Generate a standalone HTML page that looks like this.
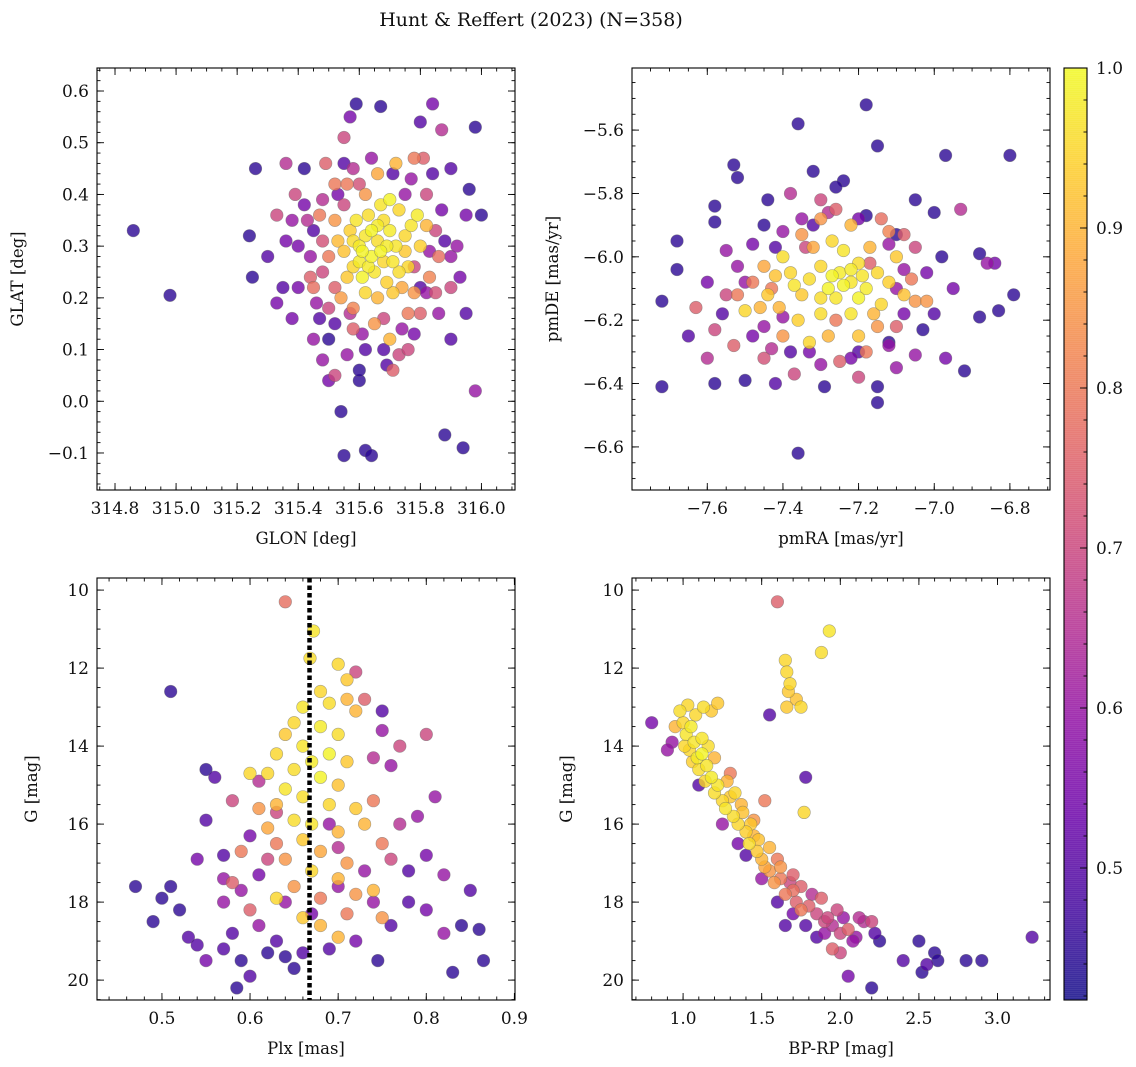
<!DOCTYPE html>
<html><head><meta charset="utf-8">
<style>
html,body{margin:0;padding:0;background:#fff;}
svg{display:block;font-family:"DejaVu Serif","Liberation Serif",serif;}
</style></head>
<body>
<svg id="fig" width="1136" height="1067" viewBox="0 0 1136 1067" xmlns="http://www.w3.org/2000/svg">
<text x="531" y="26" text-anchor="middle" font-size="19" fill="#111">Hunt &amp; Reffert (2023) (N=358)</text>
</svg>
<script>
// Panel 1: GLON / GLAT
const glon=[314.86,314.98,315.24,315.25,315.26,315.33,315.36,315.38,315.40,315.42,315.45,315.44,315.47,315.48,315.50,315.49,315.54,315.55,315.55,315.57,315.59,315.60,315.62,315.64,315.67,315.62,315.69,315.71,315.73,315.78,315.80,315.84,315.87,315.88,315.94,315.98,315.98,316.0,315.96,315.93,315.95,315.90,315.86,315.88,315.84,315.81,315.35,315.38,315.45,315.50,315.52,315.56,315.58,315.75,315.78,315.82,315.85,315.90,315.48,315.52,315.55,315.48,315.42,
315.40,315.43,315.46,315.52,315.57,315.61,315.68,315.74,315.80,315.83,315.87,315.82,315.77,315.71,315.64,315.58,315.53,315.47,315.44,315.36,315.30,315.39,315.92,315.95,315.68,315.60,315.76,315.52,315.33,315.90,
315.60,315.62,315.64,315.66,315.68,315.70,315.72,315.58,315.61,315.65,315.69,315.73,315.75,315.77,315.79,315.63,315.67,315.70,315.57,315.55,315.59,315.62,315.66,315.71,315.74,315.76,315.64,315.68,315.60,315.56,315.53,315.80,315.82,315.78,315.70,315.65,315.58,315.54,315.52,315.50,315.83,315.86,315.76,315.80,315.62,315.66,315.72,315.78,315.56,315.60,315.73,315.61,315.67,315.63,315.69,315.71,315.58,315.75,315.66,315.45,315.50,315.85,315.90,315.55,315.48];
const glat=[0.33,0.205,0.32,0.24,0.45,0.36,0.46,0.35,0.22,0.45,0.33,0.28,0.16,0.08,0.04,0.46,-0.02,-0.105,0.51,0.55,0.575,0.04,-0.095,-0.105,0.57,0.1,0.07,0.06,0.09,0.13,0.54,0.575,0.525,-0.065,-0.09,0.02,0.53,0.36,0.41,0.24,0.17,0.12,0.17,0.31,0.44,0.47,0.22,0.16,0.12,0.12,0.15,0.09,0.14,0.4,0.26,0.21,0.33,0.28,0.39,0.42,0.46,0.25,0.38,
0.30,0.35,0.19,0.22,0.17,0.13,0.16,0.14,0.22,0.29,0.37,0.40,0.43,0.44,0.47,0.45,0.40,0.36,0.24,0.31,0.28,0.40,0.30,0.36,0.10,0.06,0.10,0.05,0.19,0.45,
0.30,0.32,0.28,0.31,0.27,0.33,0.30,0.26,0.24,0.25,0.23,0.25,0.29,0.34,0.36,0.36,0.38,0.39,0.33,0.29,0.35,0.21,0.20,0.21,0.22,0.26,0.33,0.35,0.27,0.24,0.31,0.30,0.34,0.21,0.12,0.15,0.18,0.20,0.35,0.28,0.24,0.28,0.17,0.17,0.40,0.44,0.46,0.47,0.42,0.42,0.37,0.29,0.29,0.26,0.30,0.27,0.31,0.32,0.34,0.22,0.18,0.21,0.22,0.38,0.31];
const prob1=[0.45,0.45,0.45,0.45,0.45,0.7,0.65,0.6,0.55,0.45,0.5,0.6,0.5,0.6,0.55,0.75,0.45,0.45,0.7,0.55,0.45,0.45,0.45,0.45,0.45,0.5,0.5,0.75,0.7,0.55,0.5,0.55,0.65,0.45,0.45,0.6,0.45,0.45,0.45,0.55,0.5,0.5,0.6,0.5,0.5,0.75,0.5,0.55,0.6,0.45,0.5,0.6,0.75,0.6,0.7,0.6,0.7,0.6,0.65,0.8,0.5,0.7,0.55,
0.55,0.65,0.6,0.75,0.65,0.6,0.7,0.6,0.5,0.6,0.55,0.7,0.6,0.5,0.6,0.65,0.55,0.8,0.75,0.55,0.5,0.7,0.6,0.55,0.5,0.45,0.7,0.7,0.55,0.5,
0.98,0.97,0.99,0.96,0.95,0.98,0.97,0.95,0.99,0.97,0.94,0.96,0.93,0.97,0.98,0.96,0.97,0.99,0.94,0.92,0.97,0.95,0.90,0.93,0.88,0.95,0.99,0.96,0.98,0.93,0.91,0.94,0.9,0.85,0.9,0.85,0.82,0.86,0.85,0.8,0.82,0.78,0.8,0.75,0.85,0.88,0.9,0.8,0.8,0.72,0.95,0.99,0.99,0.98,0.98,0.97,0.96,0.95,0.98,0.78,0.7,0.72,0.7,0.7,0.72];
// Panel 2: pmRA / pmDE
const pmra=[-7.36,-7.18,-7.15,-7.53,-7.52,-7.32,-6.97,-6.80,-7.44,-7.24,-7.26,-7.05,-6.93,-7.58,-7.58,-7.68,-7.68,-7.72,-7.72,-7.60,-7.58,-7.50,-7.63,-7.58,-7.36,-7.37,-7.29,-7.15,-7.15,-7.05,-6.92,-6.97,-6.98,-6.88,-6.86,-6.84,-6.88,-6.83,-6.79,-7.03,-7.08,-7.05,-7.00,-7.10,-7.12,-7.18,-7.45,-7.55,-7.50,-7.48,-7.43,-7.40,-7.33,-7.20,-7.10,-7.05,-7.02,-7.08,-7.42,-7.35,
-7.48,-7.52,-7.40,-7.32,-7.28,-7.20,-7.12,-7.08,-7.12,-7.22,-7.30,-7.38,-7.45,-7.56,-7.02,-7.00,-7.60,-7.42,-7.10,-6.95,-7.65,-7.34,-7.17,-7.26,-7.43,
-7.25,-7.22,-7.28,-7.20,-7.30,-7.18,-7.26,-7.33,-7.15,-7.12,-7.35,-7.38,-7.40,-7.42,-7.10,-7.14,-7.22,-7.30,-7.36,-7.28,-7.20,-7.24,-7.17,-7.27,-7.32,-7.44,-7.46,-7.50,-7.08,-7.06,-7.35,-7.22,-7.30,-7.40,-7.33,-7.15,-7.18,-7.25,-7.45,-7.48,-7.20,-7.24,-7.27,-7.22,-7.30,-7.19,-7.16,-7.37,-7.41,-7.12,-7.14,-7.52,-7.53,-7.55,-7.30,-7.26,-7.20,-7.10,-7.38,-7.45];
const pmde=[-5.58,-5.52,-5.65,-5.71,-5.75,-5.73,-5.68,-5.68,-5.82,-5.76,-5.78,-5.82,-5.85,-5.89,-5.84,-5.95,-6.04,-6.14,-6.41,-6.32,-6.40,-6.39,-6.16,-6.23,-6.62,-6.37,-6.41,-6.46,-6.41,-6.31,-6.36,-6.32,-6.00,-5.99,-6.02,-6.02,-6.19,-6.17,-6.12,-6.23,-5.93,-5.97,-5.86,-5.93,-6.27,-5.87,-5.90,-5.98,-6.08,-6.25,-6.29,-6.19,-6.30,-6.30,-6.10,-6.14,-6.14,-6.04,-5.97,-5.88,
-5.96,-6.03,-5.92,-5.90,-5.86,-5.88,-5.96,-6.18,-6.28,-6.32,-6.34,-6.30,-6.22,-6.18,-6.05,-6.18,-6.08,-6.40,-6.35,-6.10,-6.25,-5.97,-6.02,-6.20,-6.10,
-6.05,-6.08,-6.10,-6.02,-6.03,-6.10,-6.13,-6.07,-6.05,-6.08,-6.12,-6.05,-6.00,-6.06,-6.00,-6.15,-6.18,-6.18,-6.20,-6.25,-6.25,-5.98,-5.97,-5.95,-5.97,-6.12,-6.16,-6.17,-6.12,-6.07,-5.93,-5.90,-5.88,-6.25,-6.27,-6.22,-6.30,-6.33,-6.03,-6.08,-6.13,-6.09,-6.06,-6.04,-6.13,-6.06,-6.18,-6.09,-6.16,-5.92,-5.88,-6.12,-6.28,-6.12,-5.82,-5.85,-6.38,-6.22,-5.80,-6.32];
const prob2=[0.45,0.45,0.45,0.45,0.45,0.45,0.45,0.45,0.45,0.45,0.45,0.45,0.65,0.45,0.45,0.45,0.45,0.45,0.45,0.65,0.45,0.45,0.75,0.7,0.45,0.7,0.45,0.45,0.45,0.6,0.45,0.55,0.45,0.45,0.6,0.55,0.45,0.45,0.45,0.45,0.75,0.7,0.45,0.45,0.45,0.45,0.45,0.6,0.6,0.55,0.65,0.6,0.55,0.5,0.6,0.85,0.85,0.6,0.5,0.6,
0.55,0.6,0.6,0.5,0.65,0.55,0.6,0.55,0.6,0.55,0.6,0.5,0.6,0.5,0.55,0.5,0.55,0.5,0.6,0.55,0.5,0.7,0.75,0.8,0.8,
0.98,0.97,0.99,0.96,0.95,0.98,0.97,0.96,0.95,0.94,0.93,0.95,0.96,0.92,0.93,0.95,0.97,0.96,0.94,0.9,0.92,0.97,0.9,0.95,0.88,0.93,0.9,0.95,0.92,0.8,0.85,0.9,0.85,0.85,0.95,0.85,0.8,0.75,0.88,0.8,0.99,0.99,0.99,0.98,0.96,0.97,0.9,0.97,0.9,0.82,0.78,0.8,0.75,0.7,0.7,0.75,0.7,0.75,0.65,0.72];
// Panel 3: Plx / G
const plx=[0.672,0.668,0.70,0.71,0.68,0.69,0.66,0.71,0.72,0.65,0.68,0.70,0.64,0.66,0.69,0.63,0.67,0.71,0.62,0.65,0.68,0.70,0.64,0.66,0.69,0.72,0.63,0.65,0.67,0.70,0.62,0.66,0.68,0.64,0.67,0.70,0.65,0.72,0.68,0.63,0.66,0.71,0.68,0.70,0.60,0.61,0.74,0.73,0.75,0.59,0.58,0.60,0.63,0.71,0.74,0.75,0.64,0.72,0.73,0.75,0.77,
0.51,0.55,0.56,0.55,0.57,0.54,0.47,0.49,0.50,0.51,0.52,0.53,0.54,0.55,0.57,0.58,0.59,0.585,0.60,0.62,0.63,0.64,0.65,0.66,0.69,0.72,0.745,0.76,0.78,0.80,0.82,0.83,0.84,0.86,0.865,0.85,0.82,0.80,0.79,0.81,0.80,0.76,0.75,0.74,0.77,0.78,0.73,0.70,0.61,0.59,0.57,0.61,0.60,0.58,0.57,0.62,0.63,0.61,0.76,0.74,0.70,0.64,0.67,0.69];
const gmag3=[11.05,11.75,11.9,12.3,12.6,12.9,13.0,12.8,13.1,13.4,13.5,13.7,13.7,14.0,14.2,14.2,14.4,14.4,14.7,14.6,14.8,15.0,15.1,15.3,15.5,15.6,15.5,15.9,16.0,16.2,16.1,16.4,16.7,16.9,17.2,17.4,17.6,17.8,17.9,17.9,18.4,18.3,18.6,18.9,14.7,15.6,15.4,16.0,16.5,16.7,17.5,18.2,16.5,17.0,17.7,18.4,10.3,12.1,12.8,13.6,14.0,
12.6,14.6,14.8,15.9,16.8,16.9,17.6,18.5,17.9,17.6,18.2,18.9,19.1,19.5,19.2,18.8,19.5,20.2,19.9,19.3,19.0,19.4,19.7,19.3,19.2,19.0,19.5,18.6,18.0,18.2,18.8,19.8,18.6,18.7,19.5,17.7,17.3,16.8,15.8,15.3,13.7,14.5,13.1,14.3,16.0,17.2,17.2,17.6,17.3,17.7,18.0,18.6,16.3,15.4,17.4,16.9,15.7,14.9,16.9,18.0,16.6,18.0,18.3,16.0];
const prob3=[0.97,0.96,0.95,0.93,0.95,0.96,0.97,0.9,0.9,0.95,0.98,0.96,0.93,0.97,0.99,0.95,0.98,0.93,0.95,0.96,0.99,0.92,0.97,0.96,0.95,0.93,0.9,0.96,0.97,0.9,0.88,0.93,0.88,0.85,0.95,0.9,0.85,0.85,0.8,0.95,0.93,0.8,0.9,0.9,0.95,0.85,0.8,0.9,0.8,0.8,0.75,0.75,0.8,0.85,0.9,0.85,0.78,0.7,0.75,0.6,0.7,
0.45,0.45,0.5,0.5,0.5,0.55,0.45,0.45,0.45,0.45,0.45,0.5,0.5,0.55,0.5,0.5,0.45,0.45,0.5,0.45,0.5,0.45,0.45,0.5,0.5,0.55,0.45,0.5,0.5,0.55,0.6,0.45,0.45,0.45,0.45,0.5,0.6,0.55,0.6,0.6,0.7,0.6,0.5,0.65,0.65,0.5,0.6,0.6,0.55,0.6,0.6,0.6,0.55,0.7,0.6,0.7,0.7,0.65,0.7,0.6,0.65,0.6,0.55,0.6];
// Panel 4: BP-RP / G
const bprp=[1.65,1.66,1.67,1.68,1.66,1.72,1.75,1.93,1.88,1.60,1.55,1.78,1.77,
0.98,1.00,1.02,1.05,1.07,1.04,1.09,1.12,1.10,1.15,1.14,1.18,1.20,1.22,1.25,1.27,1.30,1.32,1.35,1.38,1.40,1.42,1.45,1.47,1.50,1.52,1.55,1.58,1.62,1.65,1.70,1.72,1.75,1.80,1.85,1.90,1.95,2.00,2.05,2.10,2.15,2.20,2.22,2.25,1.08,1.13,1.18,1.22,1.03,0.95,0.93,0.80,0.90,1.10,1.25,1.35,1.40,1.50,1.60,1.65,1.70,1.78,1.85,1.90,1.95,2.00,2.05,2.08,2.20,2.40,2.50,2.52,2.55,2.60,2.62,2.80,2.90,3.22,1.52,1.30,1.45,1.60,1.70,1.88,1.98,2.12,1.20,1.28,1.33,1.37,1.43,1.48,1.55,1.62,1.68,1.75,1.82,1.92,2.02,1.12,1.16,1.06,1.01];
const gmag4=[11.8,12.1,12.6,12.4,13.0,12.8,13.0,11.05,11.6,10.3,13.2,14.8,15.7,
13.1,13.4,13.7,13.5,13.9,14.1,14.3,14.2,14.6,14.5,14.9,14.8,15.2,15.0,15.4,15.6,15.3,15.8,16.0,15.7,16.2,16.5,16.3,16.7,16.9,17.1,17.2,17.5,17.4,17.8,17.7,18.0,18.2,18.1,18.3,18.5,18.6,18.8,18.7,18.9,18.5,18.5,18.8,19.0,13.2,13.0,13.1,12.9,12.95,13.5,13.9,13.4,14.1,15.0,16.0,16.5,16.8,17.4,18.0,18.6,18.3,18.6,18.9,18.8,19.2,19.3,19.9,19.0,20.2,19.5,19.0,19.8,19.6,19.3,19.5,19.5,19.5,18.9,15.4,14.7,15.9,16.9,17.3,17.9,18.2,18.4,14.3,14.9,15.2,15.5,16.0,16.4,16.6,17.1,17.5,17.6,17.8,18.4,18.4,13.8,14.0,14.4,14.0];
const prob4=[0.95,0.95,0.93,0.95,0.93,0.92,0.95,0.97,0.96,0.75,0.5,0.5,0.95,
0.96,0.95,0.97,0.98,0.97,0.95,0.98,0.99,0.96,0.97,0.95,0.98,0.96,0.97,0.95,0.97,0.93,0.96,0.95,0.92,0.94,0.96,0.9,0.93,0.9,0.88,0.85,0.85,0.8,0.8,0.78,0.75,0.8,0.75,0.7,0.7,0.65,0.7,0.75,0.6,0.65,0.7,0.5,0.45,0.95,0.96,0.93,0.93,0.95,0.9,0.6,0.55,0.6,0.5,0.6,0.55,0.5,0.6,0.5,0.5,0.55,0.5,0.5,0.6,0.75,0.7,0.55,0.6,0.45,0.5,0.45,0.45,0.5,0.45,0.45,0.45,0.45,0.5,0.8,0.8,0.85,0.8,0.75,0.75,0.7,0.65,0.9,0.9,0.95,0.9,0.93,0.92,0.9,0.85,0.7,0.75,0.65,0.7,0.6,0.97,0.96,0.94,0.95];
const plxLine=0.6675;
const cMin=0.4175, cMax=1.0;

const NS='http://www.w3.org/2000/svg';
const svg=document.getElementById('fig');
function mk(tag,attrs,parent){const e=document.createElementNS(NS,tag);for(const k in attrs)e.setAttribute(k,attrs[k]);(parent||svg).appendChild(e);return e;}
const stops=[[13,8,135],[65,4,157],[106,0,168],[143,13,164],[177,42,144],[204,71,120],[225,100,98],[242,132,75],[252,166,54],[252,206,37],[240,249,33]];
function plasma(p){let t=(p-cMin)/(cMax-cMin);t=Math.max(0,Math.min(1,t))*10;const i=Math.min(9,Math.floor(t)),f=t-i;const a=stops[i],b=stops[i+1];return 'rgb('+a.map((v,j)=>Math.round(v+(b[j]-v)*f)).join(',')+')';}
function fmt(v,d){if(d===-1)v=-v,d=0;const s=Math.abs(v)<1e-9?(0).toFixed(d):v.toFixed(d);return s.replace('-','\u2212');}

function panel(o){
  const g=mk('g',{});
  
  
  const X=v=>o.x0+(v-o.xd[0])/(o.xd[1]-o.xd[0])*(o.x1-o.x0);
  const Y=v=>o.y1-(v-o.yd[0])/(o.yd[1]-o.yd[0])*(o.y1-o.y0);
  const idx=o.xs.map((_,i)=>i).sort((a,b)=>o.ps[a]-o.ps[b]);
  const clip='clip-'+o.name;
  const cp=mk('clipPath',{id:clip},g);mk('rect',{x:o.x0,y:o.y0,width:o.x1-o.x0,height:o.y1-o.y0},cp);
  const pts=mk('g',{'clip-path':'url(#'+clip+')'},g);
  
  
  idx.forEach(i=>{const c=mk('circle',{cx:X(o.xs[i]).toFixed(1),cy:Y(o.ys[i]).toFixed(1),r:6.3,fill:plasma(o.ps[i]),'fill-opacity':0.8,stroke:'#666','stroke-opacity':0.55,'stroke-width':0.6},pts);
    
    });
  if(o.vline!==undefined){const l=mk('line',{x1:X(o.vline),x2:X(o.vline),y1:o.y0,y2:o.y1,stroke:'#000','stroke-width':4.5,'stroke-dasharray':'4.5 3'},g);
    
    }
  mk('rect',{x:o.x0,y:o.y0,width:o.x1-o.x0,height:o.y1-o.y0,fill:'none',stroke:'#000','stroke-width':1.1},g);
  const tg=mk('g',{stroke:'#000','stroke-width':0.9},g);
  function ticks(dom,step,len,isX,lab,dec){const s=Math.ceil(dom[0]/step-1e-6),e=Math.floor(dom[1]/step+1e-6);
    for(let k=s;k<=e;k++){const v=k*step;
      if(isX){const x=X(v);mk('line',{x1:x,x2:x,y1:o.y1,y2:o.y1-len},tg);mk('line',{x1:x,x2:x,y1:o.y0,y2:o.y0+len},tg);
        if(lab){const t=mk('text',{x:x,y:o.y1+24,'text-anchor':'middle','font-size':17,fill:'#111'},g);t.textContent=fmt(v,dec);}}
      else{const y=Y(v);mk('line',{x1:o.x0,x2:o.x0+len,y1:y,y2:y},tg);mk('line',{x1:o.x1,x2:o.x1-len,y1:y,y2:y},tg);
        if(lab){const t=mk('text',{x:o.x0-8,y:y+6,'text-anchor':'end','font-size':17,fill:'#111'},g);t.textContent=fmt(v,dec);}}}}
  ticks(o.xd,o.xmin,3.5,true,false);ticks(o.xd,o.xmaj,7,true,true,o.xdec);
  ticks(o.yd,o.ymin,3.5,false,false);ticks(o.yd,o.ymaj,7,false,true,o.ydec);
  const xl=mk('text',{x:(o.x0+o.x1)/2,y:o.y1+54,'text-anchor':'middle','font-size':16.5,fill:'#111'},g);xl.textContent=o.xlab;
  
  
  const yx=o.x0-o.ylOff, yy=(o.y0+o.y1)/2;
  const yl=mk('text',{x:yx,y:yy,'text-anchor':'middle','font-size':16.5,fill:'#111',transform:'rotate(-90 '+yx+' '+yy+')'},g);yl.textContent=o.ylab;
  
  
}
panel({name:'glon-glat-panel',x0:97,x1:515,y0:68,y1:490,xd:[314.741,316.11],yd:[-0.1716,0.6445],xs:glon,ys:glat,ps:prob1,xmaj:0.2,xmin:0.05,xdec:1,ymaj:0.1,ymin:0.02,ydec:1,xlab:'GLON [deg]',ylab:'GLAT [deg]',ylOff:74});
panel({name:'pm-panel',x0:632,x1:1050,y0:68,y1:490,xd:[-7.799,-6.694],yd:[-6.736,-5.404],xs:pmra,ys:pmde,ps:prob2,xmaj:0.2,xmin:0.05,xdec:1,ymaj:0.2,ymin:0.05,ydec:1,xlab:'pmRA [mas/yr]',ylab:'pmDE [mas/yr]',ylOff:74});
function panelMag(o){o.ys=o.ys.map(v=>-v);o.yd=[-o.yd[1],-o.yd[0]];panel(o);}
panelMag({name:'plx-g-panel',x0:97,x1:515,y0:578,y1:1000,xd:[0.4263,0.9007],yd:[9.69,20.51],xs:plx,ys:gmag3,ps:prob3,xmaj:0.1,xmin:0.02,xdec:1,ymaj:2,ymin:0.5,ydec:-1,xlab:'Plx [mas]',ylab:'G [mag]',ylOff:60,vline:plxLine});
panelMag({name:'cmd-panel',x0:632,x1:1050,y0:578,y1:1000,xd:[0.675,3.334],yd:[9.69,20.51],xs:bprp,ys:gmag4,ps:prob4,xmaj:0.5,xmin:0.1,xdec:1,ymaj:2,ymin:0.5,ydec:-1,xlab:'BP-RP [mag]',ylab:'G [mag]',ylOff:60});

// Colorbar
const cb=mk('g',{});


const cbx=1064,cbw=23,cby0=68,cby1=1000;
for(let y=cby0;y<cby1;y+=2){const p=cMax-(y-cby0)/(cby1-cby0)*(cMax-cMin);mk('rect',{x:cbx,y:y,width:cbw,height:2.3,fill:plasma(p),'fill-opacity':0.8},cb);}
mk('rect',{x:cbx,y:cby0,width:cbw,height:cby1-cby0,fill:'none',stroke:'#000','stroke-width':1.1},cb);
const CY=v=>cby0+(cMax-v)/(cMax-cMin)*(cby1-cby0);
for(let k=20;k<=50;k++){const v=k*0.02;if(v<cMin)continue;const y=CY(v);mk('line',{x1:cbx+cbw,x2:cbx+cbw-3.5,y1:y,y2:y,stroke:'#000','stroke-width':0.9},cb);}
for(let k=5;k<=10;k++){const v=k*0.1;const y=CY(v);mk('line',{x1:cbx+cbw,x2:cbx+cbw-7,y1:y,y2:y,stroke:'#000','stroke-width':0.9},cb);
  const t=mk('text',{x:cbx+cbw+9,y:y+6,'font-size':17,fill:'#111'},cb);t.textContent=v.toFixed(1);
  
  }
</script>
</body></html>
